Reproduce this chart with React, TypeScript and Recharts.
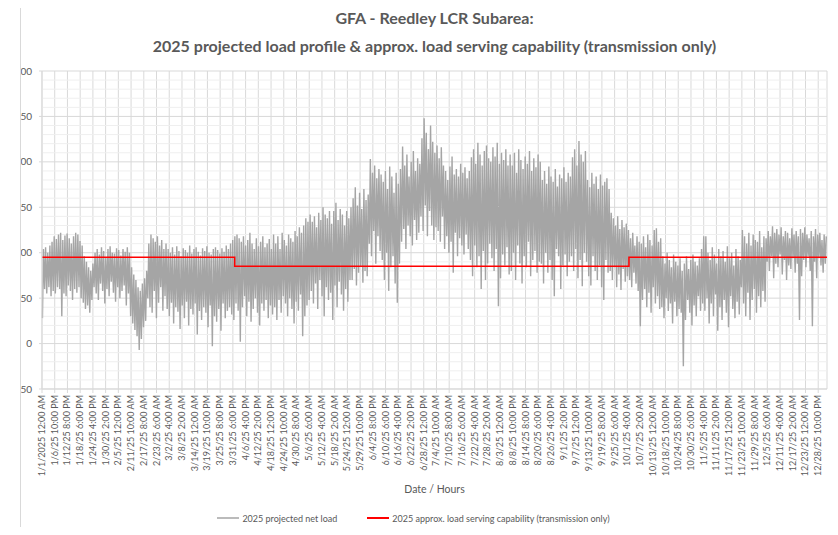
import { LineChart, Line, XAxis, YAxis, CartesianGrid, ReferenceLine, Legend } from "recharts"

const FONT = "Lato, 'Open Sans', sans-serif"
const TEXT = "#595959"
const GRID = "#d9d9d9"
const HOURS_PER_TICK = 142

const LOAD_NAME = "2025 projected net load"
const CAPABILITY_NAME = "2025 approx. load serving capability (transmission only)"
const seriesOrder = [LOAD_NAME, CAPABILITY_NAME]

const xTickLabels = [
  "1/1/2025 12:00 AM", "1/6/25 10:00 PM", "1/12/25 8:00 PM", "1/18/25 6:00 PM", "1/24/25 4:00 PM",
  "1/30/25 2:00 PM", "2/5/25 12:00 PM", "2/11/25 10:00 AM", "2/17/25 8:00 AM", "2/23/25 6:00 AM",
  "3/2/25 4:00 AM", "3/8/25 2:00 AM", "3/14/25 12:00 AM", "3/19/25 10:00 PM", "3/25/25 8:00 PM",
  "3/31/25 6:00 PM", "4/6/25 4:00 PM", "4/12/25 2:00 PM", "4/18/25 12:00 PM", "4/24/25 10:00 AM",
  "4/30/25 8:00 AM", "5/6/25 6:00 AM", "5/12/25 4:00 AM", "5/18/25 2:00 AM", "5/24/25 12:00 AM",
  "5/29/25 10:00 PM", "6/4/25 8:00 PM", "6/10/25 6:00 PM", "6/16/25 4:00 PM", "6/22/25 2:00 PM",
  "6/28/25 12:00 PM", "7/4/25 10:00 AM", "7/10/25 8:00 AM", "7/16/25 6:00 AM", "7/22/25 4:00 AM",
  "7/28/25 2:00 AM", "8/3/25 12:00 AM", "8/8/25 10:00 PM", "8/14/25 8:00 PM", "8/20/25 6:00 PM",
  "8/26/25 4:00 PM", "9/1/25 2:00 PM", "9/7/25 12:00 PM", "9/13/25 10:00 AM", "9/19/25 8:00 AM",
  "9/25/25 6:00 AM", "10/1/25 4:00 AM", "10/7/25 2:00 AM", "10/13/25 12:00 AM", "10/18/25 10:00 PM",
  "10/24/25 8:00 PM", "10/30/25 6:00 PM", "11/5/25 4:00 PM", "11/11/25 2:00 PM", "11/17/25 12:00 PM",
  "11/23/25 10:00 AM", "11/29/25 8:00 AM", "12/5/25 6:00 AM", "12/11/25 4:00 AM", "12/17/25 2:00 AM",
  "12/23/25 12:00 AM", "12/28/25 10:00 PM",
]

const yTicks = [-50, 0, 50, 100, 150, 200, 250, 300]
const yMinorTicks = [
  -40, -30, -20, -10, 10, 20, 30, 40, 60, 70, 80, 90, 110, 120, 130, 140,
  160, 170, 180, 190, 210, 220, 230, 240, 260, 270, 280, 290,
]

// daily peak / trough of the hourly net load (MW)
// Jan - early Apr
const highA = [
  104, 106, 100, 108, 112,
  118, 115, 120, 122, 114, 119, 121, 116, 110, 118, 122, 120, 113, 108,
  96, 90, 84, 80, 88,
  100, 104, 98, 106, 102, 95, 104, 107, 100, 99, 105, 103, 97, 104, 101, 106, 100,
  84, 76, 70, 62, 58, 66, 72, 80,
  110, 120, 116, 112, 118, 108, 114, 104, 110,
  104, 100, 106, 98, 107, 102, 96, 105, 103, 100, 108, 99, 104, 106, 101, 97, 105,
  102, 107, 100, 98, 104, 106, 103, 99, 105, 101, 108, 104, 110, 114, 118, 120, 116,
]
const lowA = [
  28, 60, 55, 62, 52,
  58, 55, 62, 60, 30, 55, 52, 64, 58, 48, 60, 56, 62, 50,
  45, 38, 42, 34, 48,
  62, 55, 48, 66, 58, 44, 60, 52, 68, 56, 46, 62, 50, 58, 64, 42, 55,
  30, 22, 15, 8, -7, 5, 18, 25,
  50, 40, 34, 58, 28, 45, 62, 36, 52,
  38, 30, 45, 22, 40, 35, 16, 42, 28, 46, 20, 38, 32, 44, 10, 36, 26,
  40, 34, 18, 42, -3, 30, 24, 38, 14, 44, 28, 36, 40, 32, 26, 44, 36,
]
// Apr - early Jul
const highB = [
  112, 118, 108, 114, 122, 110, 104, 116, 107, 112, 118, 106, 110, 115, 104, 120,
  110, 118, 104, 122, 114, 108, 120, 116, 112, 124, 118, 128, 122, 130, 138, 134, 142,
  134, 140, 128, 144, 136, 150, 142, 138, 146, 132, 146, 155, 136, 148, 142, 130, 146, 138, 150,
  160, 172, 152, 166, 148, 170, 158, 164,
  203, 188, 196, 182, 192, 186,
  178, 190, 170, 195, 184, 166, 188, 176, 192,
  217, 196, 208, 184, 200, 212, 190, 204, 198,
  226, 248, 232, 214, 240, 222, 210, 218,
]
const lowB = [
  2, 40, 52, 30, 46, 24, 38, 50, 34, 20, 44, 36, 48, 28, 42, 32,
  40, 26, 48, 34, 52, 44, 30, 50, 38, 22, 46, 36, 54, 8, 30, 42, 48,
  58, 44, 66, 38, 70, 52, 30, 62, 48, 56, 26, 64, 40, 68, 54, 36, 60, 46, 70,
  70, 82, 64, 78, 85, 67, 80, 74,
  110, 96, 124, 88, 118, 102,
  92, 70, 100, 58, 84, 96, 66, 45, 88,
  112, 126, 104, 130, 118, 108, 136, 114, 122,
  140, 124, 152, 118, 146, 130, 114, 128,
]
// Jul - Sep
const highC = [
  204, 216, 196,
  190, 180, 195, 206, 186, 192, 184, 198, 188, 194, 182, 190,
  205, 214, 198, 221, 208, 196, 212, 218, 204, 200, 216, 206, 221, 198, 210, 202, 214, 196, 208,
  196, 210, 188, 214, 202, 192, 206, 198, 212, 190, 204, 194, 208, 200,
  180, 190, 176, 195, 184, 178, 192, 173, 186, 182, 194, 178, 188, 184,
  205, 214, 196, 223, 208, 200, 212,
  180, 172, 188, 176, 184, 170, 186, 174, 178, 182, 170,
  144, 138, 130, 140, 126, 136, 128, 132, 125,
]
const lowC = [
  124, 112, 140,
  104, 118, 100, 112, 78, 122, 96, 116, 108, 98, 120, 104,
  92, 74, 108, 84, 96, 60, 102, 70, 88, 110, 94, 80, 104, 41, 72, 98, 86, 106, 76,
  80, 100, 70, 108, 88, 66, 96, 84, 112, 74, 92, 102, 78, 90,
  88, 66, 100, 78, 92, 70, 52, 104, 96, 60, 86, 98, 74, 90,
  96, 80, 104, 72, 92, 63, 100,
  90, 74, 64, 96, 80, 70, 86, 62, 48, 92, 78,
  80, 70, 84, 62, 76, 59, 82, 68, 74,
]
// Oct - Dec
const highD = [
  116, 122, 108, 118, 112,
  110, 118, 106, 120, 114, 108, 125, 127, 112, 116,
  96, 88, 100, 92, 84, 98, 90, 86, 94, 80, 88, 96, 82, 92, 98, 90, 86, 94, 104, 118,
  118, 100, 92, 106, 98, 88, 104, 96, 102, 90, 107, 94, 100, 86, 104, 96, 92,
  125, 118, 110, 122, 108, 120, 114, 112, 124, 106, 118, 116,
  124, 118, 129, 122, 126, 120, 128, 118, 124, 122, 116, 127, 120, 124,
  118, 126, 122, 128, 120, 116, 124, 118, 126, 120, 122, 114, 120, 118,
]
const lowD = [
  70, 62, 78, 66, 58,
  19, 48, 60, 40, 56, 34, 62, 44, 52, 38,
  40, 28, 50, 36, 44, 22, 46, 30, 38, 34, -25, 26, 48, 34, 20, 42, 30, 52, 36, 44,
  36, 50, 22, 44, 30, 54, 14, 40, 26, 48, 34, 18, 52, 38, 28, 46, 32,
  62, 44, 30, 56, 26, 48, 60, 34, 52, 40, 58, 46,
  90, 80, 96, 72, 88, 84, 98, 76, 92, 70, 86, 82, 94, 78,
  88, 26, 74, 92, 84, 96, 80, 19, 90, 72, 94, 86, 78, 88,
]

// load serving capability steps (hour of year -> MW)
const capabilityHours = [0, 2150, 6550, 8760]
const capabilityValues = [95, 85, 95, 95]

const dailyHigh = [...highA, ...highB, ...highC, ...highD]
const dailyLow = [...lowA, ...lowB, ...lowC, ...lowD]

const loadData = dailyHigh.flatMap((high, day) => [
  { hour: day * 24 + 5, load: dailyLow[day] },
  { hour: day * 24 + 16, load: high },
])
const capabilityData = capabilityHours.map((hour, i) => ({ hour, capability: capabilityValues[i] }))
const xTicks = xTickLabels.map((_, i) => i * HOURS_PER_TICK)

function DateTick({ x, y, payload }: any) {
  return (
    <g transform={`translate(${x},${y})`}>
      <text transform="rotate(-90)" textAnchor="end" dy={3} fontSize={9} fill={TEXT} fontFamily={FONT}>
        {xTickLabels[Math.round(payload.value / HOURS_PER_TICK)]}
      </text>
    </g>
  )
}

function LegendContent({ payload }: any) {
  const items = [...(payload || [])].sort(
    (a: any, b: any) => seriesOrder.indexOf(a.value) - seriesOrder.indexOf(b.value)
  )
  return (
    <div
      style={{
        display: "flex",
        justifyContent: "center",
        alignItems: "center",
        gap: 30,
        height: 20,
        fontSize: 9,
        color: TEXT,
        fontFamily: FONT,
      }}
    >
      {items.map((entry: any) => (
        <span key={entry.value} style={{ display: "flex", alignItems: "center" }}>
          <svg width={22} height={6}>
            <line x1={0} y1={3} x2={22} y2={3} stroke={entry.color} strokeWidth={entry.value === CAPABILITY_NAME ? 2 : 1.5} />
          </svg>
          <span style={{ marginLeft: 3 }}>{entry.value}</span>
        </span>
      ))}
    </div>
  )
}

export default function App() {
  return (
    <div style={{ position: "relative", width: 838, height: 535, margin: -8, background: "#fff", fontFamily: FONT }}>
      <div
        style={{
          position: "absolute",
          top: 4,
          left: 42,
          width: 785,
          textAlign: "center",
          color: TEXT,
          fontWeight: 700,
          fontSize: 16,
          lineHeight: "28px",
          zIndex: 2,
        }}
      >
        GFA - Reedley LCR Subarea:
        <br />
        2025 projected load profile &amp; approx. load serving capability (transmission only)
      </div>
      <LineChart width={838} height={535} margin={{ top: 71, right: 11, left: 0, bottom: 7 }}>
        <CartesianGrid stroke={GRID} />
        {yMinorTicks.map((v) => (
          <ReferenceLine key={v} y={v} stroke="#efefef" />
        ))}
        <XAxis
          type="number"
          dataKey="hour"
          domain={[0, 8760]}
          ticks={xTicks}
          interval={0}
          tick={<DateTick />}
          tickSize={4}
          tickMargin={2}
          stroke={GRID}
          height={119}
          label={{ value: "Date / Hours", position: "insideBottom", offset: 15, fontSize: 10.5, fill: TEXT, fontFamily: FONT }}
        />
        <YAxis
          type="number"
          domain={[-50, 300]}
          ticks={yTicks}
          width={42}
          tickSize={3}
          tickMargin={7}
          stroke={GRID}
          tick={{ fontSize: 10, fill: TEXT, fontFamily: FONT }}
        />
        <Legend verticalAlign="bottom" height={20} content={<LegendContent />} />
        <Line
          data={loadData}
          dataKey="load"
          name={LOAD_NAME}
          stroke="#a5a5a5"
          strokeWidth={1.4}
          dot={false}
          isAnimationActive={false}
        />
        <Line
          data={capabilityData}
          dataKey="capability"
          name={CAPABILITY_NAME}
          type="stepAfter"
          stroke="#ff0000"
          strokeWidth={1.5}
          dot={false}
          isAnimationActive={false}
        />
      </LineChart>
      <div style={{ position: "absolute", left: 0, top: 0, width: 20, height: 535, background: "#fff", borderRight: "1px solid #d9d9d9" }} />
      <div style={{ position: "absolute", left: 4, top: 8, width: 1, height: 527, background: "#e4e4e4" }} />
    </div>
  )
}
